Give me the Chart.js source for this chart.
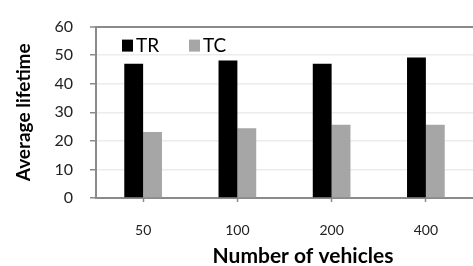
<!DOCTYPE html>
<html>
<head>
<meta charset="utf-8">
<script src="https://cdn.jsdelivr.net/npm/chart.js@4/dist/chart.umd.min.js"></script>
<style>
	html, body { margin: 0; padding: 0; background: #fff; }
	#wrap { width: 473px; height: 266px; position: relative; }
</style>
</head>
<body>
<div id="wrap"><canvas id="chart"></canvas></div>
<script>
const labels = ["50", "100", "200", "400"];
const trValues = [47.0, 48.1, 47.0, 49.2];
const tcValues = [23.1, 24.4, 25.6, 25.6];
const yTicks = [0, 10, 20, 30, 40, 50, 60];
const xTitle = 'Number of vehicles';

const axisGray = '#8a8a8a';
const gridGray = '#ececec';
const fontName = "Lato, 'Open Sans', sans-serif";

// legend inside the plot area (top left) and the x title, which sits right of centre
const extras = {
	id: 'extras',
	afterDraw(chart) {
		const ctx = chart.ctx;
		const top = chart.chartArea.top;
		const left = chart.chartArea.left;
		const xs = [left + 26, left + 93];
		ctx.save();
		ctx.font = "19px " + fontName;
		ctx.textBaseline = 'alphabetic';
		chart.data.datasets.forEach((ds, i) => {
			ctx.fillStyle = ds.backgroundColor;
			ctx.fillRect(xs[i], top + 13, 11, 12);
			ctx.fillStyle = '#000';
			ctx.fillText(ds.label, xs[i] + 14, top + 25);
		});
		ctx.font = "bold 21px " + fontName;
		ctx.textAlign = 'center';
		ctx.fillText(xTitle, 303, 263);
		ctx.restore();
	}
};

const config = {
	type: 'bar',
	data: {
		labels,
		datasets: [{
			label: 'TR',
			data: trValues,
			backgroundColor: '#000000',
			borderWidth: 0,
		}, {
			label: 'TC',
			data: tcValues,
			backgroundColor: '#a6a6a6',
			borderWidth: 0,
		}],
	},
	options: {
		responsive: true,
		maintainAspectRatio: false,
		animation: false,
		devicePixelRatio: 1,
		layout: {
			padding: { top: 16, right: -3, bottom: 0, left: 0 }
		},
		plugins: {
			legend: { display: false },
			tooltip: { enabled: false },
		},
		datasets: {
			bar: {
				categoryPercentage: 0.4,
				barPercentage: 1.0,
			}
		},
		scales: {
			x: {
				grid: {
					offset: false,
					drawOnChartArea: false,
					drawTicks: true,
					tickLength: 4,
					tickColor: axisGray,
					tickWidth: 1.5,
				},
				border: { color: axisGray, width: 2 },
				ticks: {
					color: '#222',
					font: { family: fontName, size: 14 },
					padding: 20,
				},
				title: { display: false },
				afterFit(scale) { scale.height = 68; },
			},
			y: {
				min: 0,
				max: 60,
				afterBuildTicks(scale) {
					scale.ticks = yTicks.map(v => ({ value: v }));
				},
				grid: {
					color: ctx => (ctx.tick && ctx.tick.value === 60) ? axisGray : gridGray,
					lineWidth: ctx => (ctx.tick && ctx.tick.value === 60) ? 2 : 1.5,
					tickColor: axisGray,
					tickLength: 6,
					tickWidth: 1.5,
				},
				border: { color: axisGray, width: 2 },
				ticks: {
					color: '#222',
					font: { family: fontName, size: 16 },
					padding: 17,
				},
				title: {
					display: true,
					text: 'Average lifetime',
					color: '#000',
					font: { family: fontName, size: 19, weight: 'bold' },
					padding: { top: 12, bottom: 0 },
				},
				afterFit(scale) { scale.width = 96; },
			}
		}
	},
	plugins: [extras],
};

const chart = new Chart(document.getElementById("chart"), config);
</script>
</body>
</html>
